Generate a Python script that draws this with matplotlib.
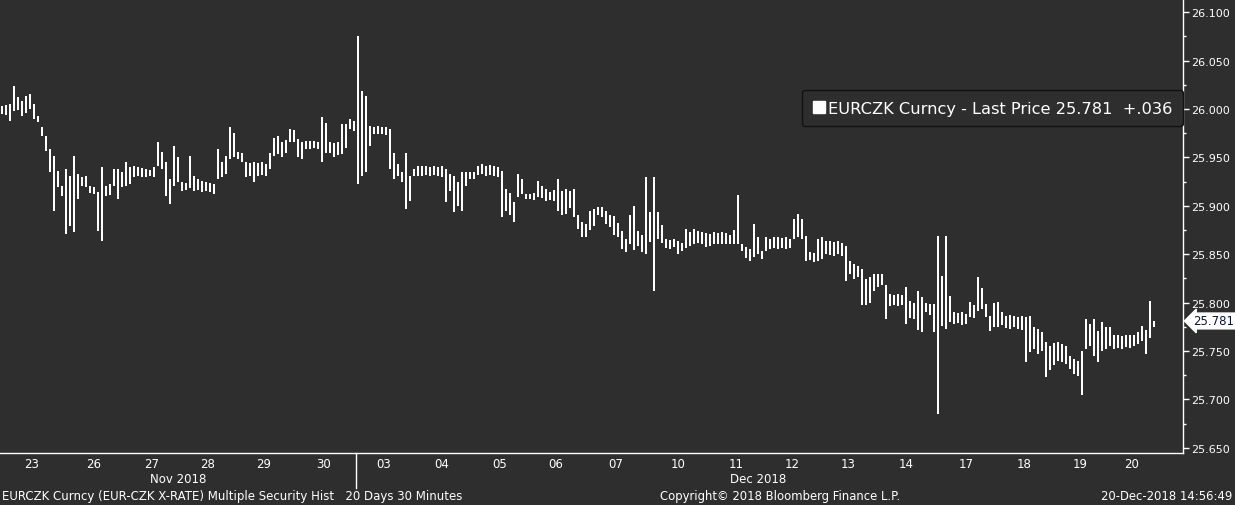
import numpy as np
import matplotlib.pyplot as plt
import matplotlib.transforms as mtransforms
from matplotlib.patches import Patch
from matplotlib.ticker import MultipleLocator, FormatStrFormatter

# session days shown on the x axis, and how many bars each one holds
days = ["23", "26", "27", "28", "29", "30",
        "03", "04", "05", "06", "07", "10", "11", "12", "13", "14",
        "17", "18", "19", "20"]
months = ["Nov 2018", "Dec 2018"]
days_in_month = [6, 14]
bars_per_day = [16, 15, 14, 14, 14, 16, 14, 15, 14, 14, 16, 15, 14, 14, 14, 15, 15, 14, 14, 12]

# low / high of each bar, day by day
lows = [
    25.995, 25.994, 25.988, 25.998, 25.999, 25.993, 25.996, 26.000, 25.990, 25.987, 25.972, 25.957, 25.935, 25.895, 25.919, 25.910,  # 23
    25.871, 25.879, 25.873, 25.907, 25.920, 25.919, 25.913, 25.912, 25.874, 25.864, 25.910, 25.911, 25.920, 25.907, 25.919,  # 26
    25.920, 25.922, 25.930, 25.931, 25.930, 25.930, 25.931, 25.930, 25.941, 25.938, 25.910, 25.902, 25.920, 25.925,  # 27
    25.915, 25.916, 25.918, 25.915, 25.916, 25.914, 25.915, 25.914, 25.912, 25.928, 25.930, 25.933, 25.948, 25.950,  # 28
    25.948, 25.945, 25.930, 25.931, 25.925, 25.931, 25.932, 25.931, 25.938, 25.951, 25.953, 25.950, 25.955, 25.966,  # 29
    25.966, 25.950, 25.948, 25.959, 25.959, 25.960, 25.959, 25.945, 25.955, 25.955, 25.950, 25.952, 25.953, 25.960, 25.979, 25.977,  # 30
    25.923, 25.931, 25.935, 25.962, 25.974, 25.974, 25.974, 25.973, 25.938, 25.928, 25.931, 25.925, 25.897, 25.905,  # 03
    25.931, 25.931, 25.931, 25.932, 25.931, 25.932, 25.931, 25.930, 25.904, 25.915, 25.894, 25.900, 25.895, 25.920, 25.928,  # 04
    25.928, 25.932, 25.933, 25.931, 25.932, 25.931, 25.930, 25.888, 25.895, 25.890, 25.883, 25.909, 25.912, 25.907,  # 05
    25.907, 25.906, 25.909, 25.908, 25.905, 25.906, 25.905, 25.895, 25.890, 25.892, 25.898, 25.888, 25.876, 25.868,  # 06
    25.868, 25.875, 25.879, 25.890, 25.888, 25.881, 25.878, 25.870, 25.868, 25.855, 25.852, 25.860, 25.854, 25.858, 25.852, 25.850,  # 07
    25.863, 25.812, 25.866, 25.862, 25.856, 25.855, 25.857, 25.850, 25.853, 25.856, 25.858, 25.860, 25.862, 25.860, 25.857,  # 10
    25.858, 25.861, 25.860, 25.861, 25.860, 25.861, 25.860, 25.860, 25.853, 25.846, 25.843, 25.847, 25.850, 25.845,  # 11
    25.853, 25.855, 25.856, 25.855, 25.856, 25.855, 25.856, 25.866, 25.868, 25.866, 25.843, 25.844, 25.842, 25.843,  # 12
    25.845, 25.850, 25.849, 25.848, 25.850, 25.848, 25.822, 25.829, 25.824, 25.826, 25.797, 25.798, 25.800, 25.812,  # 13
    25.816, 25.818, 25.783, 25.796, 25.797, 25.796, 25.798, 25.778, 25.784, 25.783, 25.772, 25.770, 25.790, 25.787, 25.770,  # 14
    25.685, 25.776, 25.773, 25.780, 25.778, 25.779, 25.777, 25.778, 25.785, 25.784, 25.791, 25.793, 25.785, 25.771, 25.775,  # 17
    25.775, 25.777, 25.774, 25.773, 25.775, 25.773, 25.772, 25.739, 25.749, 25.752, 25.747, 25.750, 25.723, 25.730,  # 18
    25.735, 25.740, 25.739, 25.737, 25.731, 25.726, 25.724, 25.704, 25.752, 25.755, 25.745, 25.739, 25.750, 25.752,  # 19
    25.755, 25.752, 25.753, 25.752, 25.754, 25.753, 25.755, 25.757, 25.760, 25.747, 25.763, 25.775,  # 20
]
highs = [
    26.003, 26.004, 26.005, 26.024, 26.012, 26.008, 26.013, 26.015, 26.005, 25.993, 25.981, 25.972, 25.959, 25.951, 25.936, 25.920,  # 23
    25.938, 25.931, 25.951, 25.933, 25.930, 25.931, 25.920, 25.919, 25.914, 25.940, 25.920, 25.922, 25.938, 25.938, 25.935,  # 26
    25.945, 25.940, 25.941, 25.940, 25.939, 25.938, 25.937, 25.940, 25.966, 25.956, 25.945, 25.928, 25.962, 25.950,  # 27
    25.925, 25.924, 25.951, 25.931, 25.928, 25.926, 25.925, 25.924, 25.923, 25.959, 25.945, 25.951, 25.981, 25.975,  # 28
    25.956, 25.955, 25.945, 25.944, 25.945, 25.944, 25.945, 25.943, 25.954, 25.970, 25.972, 25.966, 25.968, 25.979,  # 29
    25.978, 25.969, 25.966, 25.967, 25.967, 25.967, 25.966, 25.992, 25.985, 25.966, 25.965, 25.966, 25.984, 25.984, 25.990, 25.988,  # 30
    26.075, 26.019, 26.013, 25.982, 25.981, 25.982, 25.981, 25.981, 25.979, 25.954, 25.943, 25.935, 25.954, 25.931,  # 03
    25.938, 25.941, 25.941, 25.941, 25.940, 25.941, 25.940, 25.941, 25.938, 25.933, 25.931, 25.925, 25.935, 25.935, 25.935,  # 04
    25.935, 25.941, 25.943, 25.941, 25.942, 25.941, 25.940, 25.936, 25.917, 25.913, 25.904, 25.933, 25.928, 25.912,  # 05
    25.912, 25.913, 25.926, 25.920, 25.917, 25.914, 25.916, 25.928, 25.915, 25.917, 25.915, 25.917, 25.890, 25.883,  # 06
    25.881, 25.895, 25.897, 25.899, 25.899, 25.895, 25.890, 25.889, 25.882, 25.874, 25.866, 25.890, 25.900, 25.874, 25.870, 25.930,  # 07
    25.894, 25.930, 25.894, 25.880, 25.866, 25.865, 25.866, 25.864, 25.862, 25.876, 25.873, 25.876, 25.874, 25.873, 25.872,  # 10
    25.871, 25.873, 25.872, 25.873, 25.872, 25.870, 25.875, 25.911, 25.861, 25.857, 25.855, 25.881, 25.868, 25.853,  # 11
    25.868, 25.866, 25.868, 25.868, 25.867, 25.868, 25.866, 25.886, 25.891, 25.886, 25.869, 25.852, 25.851, 25.866,  # 12
    25.868, 25.864, 25.864, 25.863, 25.864, 25.862, 25.858, 25.843, 25.840, 25.838, 25.835, 25.824, 25.826, 25.830,  # 13
    25.829, 25.830, 25.818, 25.809, 25.808, 25.809, 25.808, 25.816, 25.802, 25.800, 25.812, 25.806, 25.800, 25.799, 25.799,  # 14
    25.869, 25.827, 25.869, 25.807, 25.790, 25.789, 25.790, 25.788, 25.801, 25.798, 25.826, 25.815, 25.799, 25.786, 25.800,  # 17
    25.801, 25.790, 25.786, 25.787, 25.786, 25.785, 25.786, 25.785, 25.786, 25.775, 25.773, 25.770, 25.759, 25.755,  # 18
    25.758, 25.759, 25.757, 25.755, 25.745, 25.742, 25.740, 25.750, 25.783, 25.778, 25.783, 25.771, 25.780, 25.775,  # 19
    25.775, 25.767, 25.766, 25.765, 25.767, 25.766, 25.766, 25.770, 25.776, 25.772, 25.802, 25.781,  # 20
]
last_price = 25.781
net_change = "+.036"
ticker = "EURCZK Curncy"

bg = "#2e2e2e"
plt.rcParams["font.family"] = ["DejaVu Sans"]

lows = np.array(lows)
highs = np.array(highs)
x = np.arange(len(lows))

fig = plt.figure(figsize=(12.35, 5.06), dpi=100, facecolor=bg)
ax = fig.add_axes([0, 52 / 506, 1183 / 1235, 454 / 506], facecolor=bg)

ax.bar(x, highs - lows, bottom=lows, width=0.72, color="white", linewidth=0)

ax.set_xlim(-0.5, 295.25)
ax.set_ylim(25.6446, 26.1136)

for s in ["left", "top"]:
    ax.spines[s].set_visible(False)
for s in ["right", "bottom"]:
    ax.spines[s].set_color("white")
    ax.spines[s].set_linewidth(1)

# price axis on the right
ax.yaxis.tick_right()
ax.yaxis.set_major_locator(MultipleLocator(0.05))
ax.yaxis.set_minor_locator(MultipleLocator(0.025))
ax.yaxis.set_major_formatter(FormatStrFormatter("%.3f"))
ax.tick_params(axis="y", which="major", colors="white", length=4, width=1, pad=2, labelsize=8)
ax.tick_params(axis="y", which="minor", colors="white", length=2.5, width=1)

# day labels at the middle of each day's bars
edges = np.cumsum([0] + bars_per_day)
centers = (edges[:-1] + edges[1:] - 1) / 2
ax.set_xticks(centers)
ax.set_xticklabels(days)
ax.tick_params(axis="x", length=0, colors="white", labelsize=8.5, pad=3)

trans = mtransforms.blended_transform_factory(ax.transData, ax.transAxes)
start = 0
for m, n in zip(months, days_in_month):
    mid = (centers[start] + centers[start + n - 1]) / 2
    ax.text(mid, -0.057, m, transform=trans, ha="center", va="center",
            color="white", fontsize=8.5, clip_on=False)
    start += n
sep = edges[days_in_month[0]] - 0.5
ax.plot([sep, sep], [0, -0.078], transform=trans, color="white", lw=1, clip_on=False)

# legend box
leg = ax.legend([Patch(facecolor="white", edgecolor="white")],
                [f"{ticker} - Last Price {last_price:.3f}  {net_change}"],
                loc="upper right", bbox_to_anchor=(1.0, 1 - 91 / 454), borderaxespad=0,
                fontsize=11.7, frameon=True, fancybox=True, facecolor=bg, edgecolor="#111111",
                handlelength=0.75, handleheight=0.75, handletextpad=0.2, borderpad=0.65)
for t in leg.get_texts():
    t.set_color("white")
leg.get_frame().set_alpha(1)

# last price tag
ytrans = mtransforms.blended_transform_factory(ax.transAxes, ax.transData)
ax.annotate(f"{last_price:.3f}", xy=(1, last_price), xycoords=ytrans,
            xytext=(7, 0), textcoords="offset points", ha="left", va="center",
            color="#0a1633", fontsize=8.5,
            bbox=dict(boxstyle="larrow,pad=0.12", fc="white", ec="white"),
            annotation_clip=False)

# footer
fig.text(0.002, 0.018, "EURCZK Curncy (EUR-CZK X-RATE) Multiple Security Hist   20 Days 30 Minutes",
         color="white", fontsize=8.5, ha="left", va="center")
fig.text(780 / 1235, 0.018, "Copyright\u00a9 2018 Bloomberg Finance L.P.",
         color="white", fontsize=8.4, ha="center", va="center")
fig.text(0.998, 0.018, "20-Dec-2018 14:56:49", color="white", fontsize=8.4, ha="right", va="center")

fig.savefig("out.png", dpi=100, facecolor=bg)
